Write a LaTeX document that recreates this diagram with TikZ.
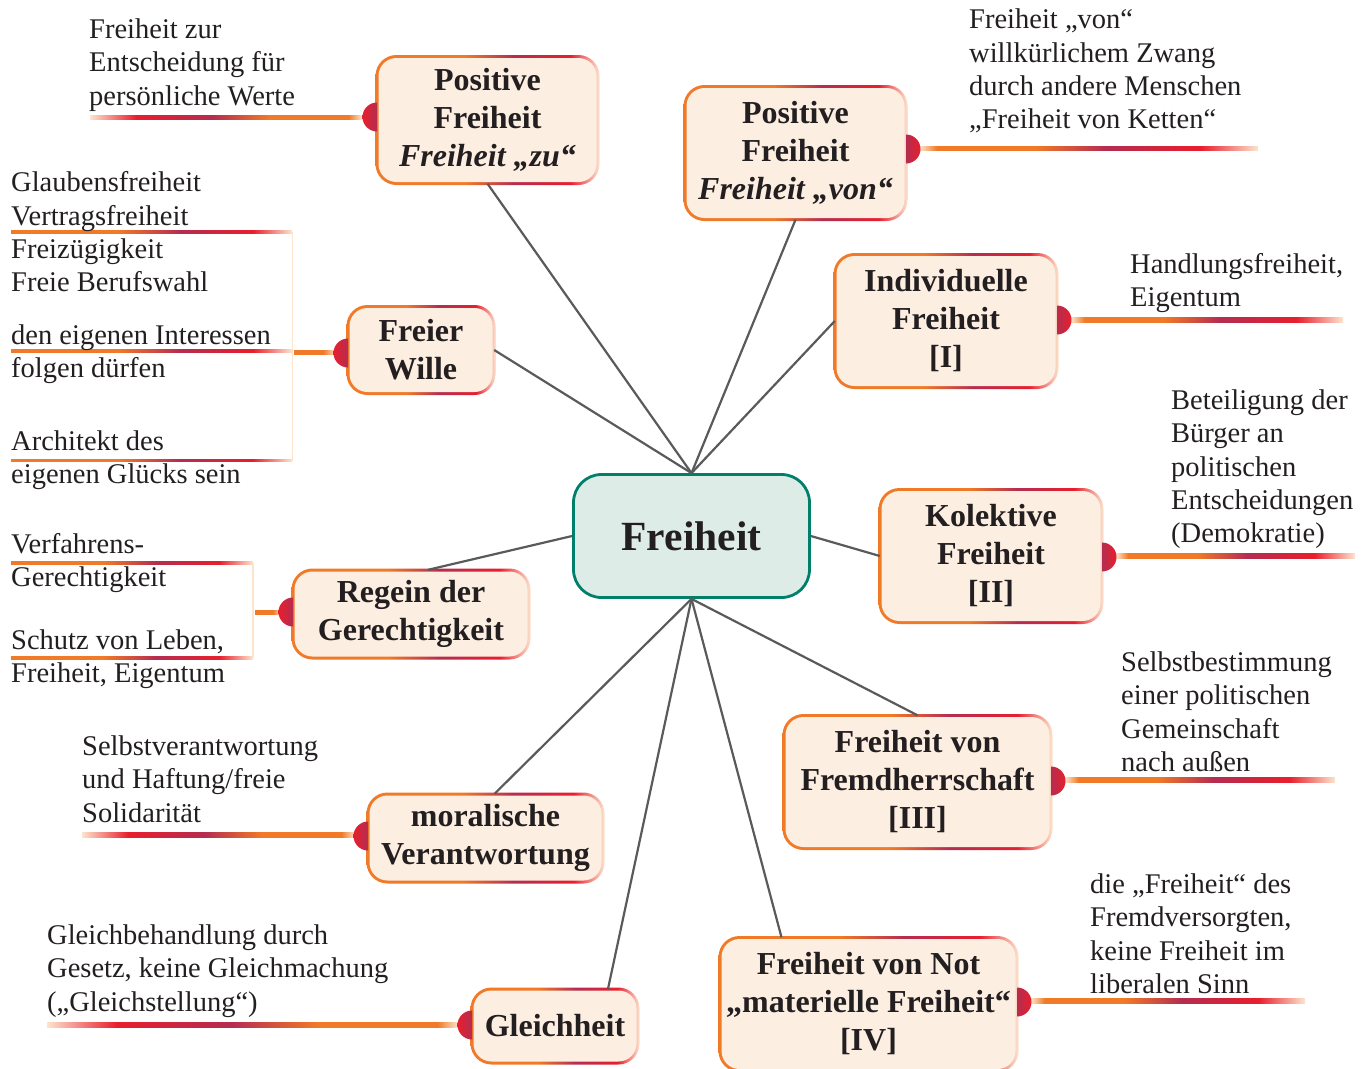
\documentclass[tikz,border=0pt]{standalone}
\usepackage{fontspec}
\setmainfont{Liberation Serif}
\definecolor{orangeC}{RGB}{240,122,40}
\definecolor{purpC}{RGB}{180,45,80}
\definecolor{redC}{RGB}{232,30,45}
\definecolor{paleC}{RGB}{252,228,205}
\definecolor{boxfillC}{RGB}{253,238,226}
\definecolor{cfillC}{RGB}{222,236,232}
\definecolor{cdrawC}{RGB}{0,128,107}
\definecolor{connC}{RGB}{90,90,90}
\definecolor{txtC}{RGB}{35,31,32}
\pgfdeclarehorizontalshading{gradR}{100bp}{color(0bp)=(paleC); color(25bp)=(paleC); color(27.5bp)=(orangeC); color(42bp)=(orangeC); color(52.5bp)=(purpC); color(66.5bp)=(redC); color(75bp)=(paleC); color(100bp)=(paleC)}
\pgfdeclarehorizontalshading{gradL}{100bp}{color(0bp)=(paleC); color(25bp)=(paleC); color(33.5bp)=(redC); color(47.5bp)=(purpC); color(58bp)=(orangeC); color(72.5bp)=(orangeC); color(75bp)=(paleC); color(100bp)=(paleC)}
\pgfdeclarehorizontalshading{gradB}{100bp}{color(0bp)=(orangeC); color(25bp)=(orangeC); color(44bp)=(orangeC); color(55bp)=(purpC); color(68bp)=(redC); color(75bp)=(paleC); color(100bp)=(paleC)}
\pgfdeclarehorizontalshading{gradBox}{100bp}{color(0bp)=(orangeC); color(25bp)=(orangeC); color(45bp)=(orangeC); color(56bp)=(purpC); color(68.5bp)=(redC); color(75bp)=(paleC); color(100bp)=(paleC)}
\pgfdeclarehorizontalshading{stubS}{100bp}{color(0bp)=(orangeC); color(25bp)=(orangeC); color(60bp)=(orangeC); color(75bp)=(paleC); color(100bp)=(paleC)}

% name, cx, cy, w, h, text
\newcommand\gbox[6]{%
  \shade[shading=gradBox, rounded corners=21pt] (#2-#4/2-1.5, #3-#5/2-1.5) rectangle (#2+#4/2+1.5, #3+#5/2+1.5);
  \fill[boxfillC, rounded corners=18pt] (#2-#4/2+1.5, #3-#5/2+1.5) rectangle (#2+#4/2-1.5, #3+#5/2-1.5);
  \node[nodetext, minimum width=#4pt, minimum height=#5pt] (#1) at (#2,#3) {#6};
}
% caps: x, y
\newcommand\capL[2]{\shade[left color=redC, right color=purpC] (#1,#2-14.5) arc[start angle=90, end angle=270, radius=14.5pt] -- cycle;}
\newcommand\capR[2]{\shade[left color=purpC, right color=redC] (#1,#2-14.5) arc[start angle=90, end angle=-90, radius=14.5pt] -- cycle;}
% gradient line: x1, x2, y, half thickness, shading
\newcommand\gline[5]{\shade[shading=#5] (#1,#3-#4) rectangle (#2,#3+#4);}

\begin{document}
\begin{tikzpicture}[x=1pt, y=-1pt,
  nodetext/.style={inner sep=0pt, align=center, text=txtC, font=\fontsize{32}{38}\selectfont\bfseries},
  bodytext/.style={inner sep=0pt, align=left, anchor=base west, text=txtC, font=\fontsize{28.5}{33.3}\selectfont},
  cbox/.style={draw=cdrawC, fill=cfillC, line width=2.8pt, rounded corners=28pt, minimum width=236pt, minimum height=123pt, text=txtC, font=\fontsize{41.5}{48}\selectfont\bfseries},
  conn/.style={draw=connC, line width=2.2pt},
  vline/.style={draw=paleC, line width=1.6pt}]
\useasboundingbox (0,0) rectangle (1370,1068);

% boxes
\gbox{n1}{487.5}{120}{221}{127}{Positive\\Freiheit\\\textit{Freiheit „zu“}}
\gbox{n2}{795.5}{153}{221}{133}{Positive\\Freiheit\\\textit{Freiheit „von“}}
\gbox{n3}{946}{321}{222}{133}{Individuelle\\Freiheit\\{[I]}}
\gbox{n4}{991}{556}{222}{133}{Kolektive\\Freiheit\\{[II]}}
\gbox{n5}{917.5}{782}{267}{133}{Freiheit von\\Fremdherrschaft\\{[III]}}
\gbox{n6}{868.5}{1004}{297}{133}{Freiheit von Not\\„materielle Freiheit“\\{[IV]}}
\gbox{n7}{555}{1026}{166}{74}{Gleichheit}
\gbox{n8}{485.5}{838}{235}{88}{moralische\\Verantwortung}
\gbox{n9}{411}{614}{236}{88}{Regein der\\Gerechtigkeit}
\gbox{n10}{421}{350}{146}{87}{Freier\\Wille}

\node[cbox] (c) at (691.5,536) {Freiheit};

% connectors
\draw[conn] (c.north) -- (n1.south);
\draw[conn] (c.north) -- (n2.south);
\draw[conn] (c.north) -- (n3.west);
\draw[conn] (c.north) -- (n10.east);
\draw[conn] (c.east) -- (n4.west);
\draw[conn] (c.west) -- ([xshift=17pt]n9.north);
\draw[conn] (c.south) -- (n5.north);
\draw[conn] (c.south) -- ([xshift=-87pt]n6.north);
\draw[conn] (c.south) -- ([xshift=53pt]n7.north);
\draw[conn] (c.south) -- ([xshift=9pt]n8.north);

% underlines
\gline{90}{362}{117.5}{2.4}{gradL}
\gline{920}{1258}{148.5}{2.4}{gradR}
\gline{1071}{1343}{320}{2.4}{gradR}
\gline{1116}{1355}{556}{2.4}{gradR}
\gline{1065}{1335}{780}{2.4}{gradR}
\gline{1031}{1305}{1001}{2.4}{gradR}
\gline{47}{458}{1025}{2.4}{gradL}
\gline{82}{355}{835}{2.4}{gradL}

% bracket for Regein der Gerechtigkeit
\gline{11}{253}{563}{1.4}{gradB}
\gline{11}{253}{658}{1.4}{gradB}
\draw[vline] (253,563) -- (253,658);
\gline{255}{281}{612}{2}{stubS}

% bracket for Freier Wille
\gline{11}{292}{232}{1.4}{gradB}
\gline{11}{292}{351}{1.4}{gradB}
\gline{11}{292}{460.5}{1.4}{gradB}
\draw[vline] (292.5,232) -- (292.5,460.5);
\gline{294}{336}{352.5}{2}{stubS}

% caps
\capL{377}{117}
\capR{906}{149}
\capR{1057}{320}
\capR{1102}{557}
\capR{1051}{781}
\capR{1017}{1002}
\capL{472}{1025}
\capL{368}{836}
\capL{293}{612}
\capL{348}{353}

% texts (anchor = baseline of last line)
\node[bodytext] (t1) at (89,105.1) {Freiheit zur\\Entscheidung für\\persönliche Werte};
\node[bodytext] (t2) at (969,128.6) {Freiheit „von“\\willkürlichem Zwang\\durch andere Menschen\\„Freiheit von Ketten“};
\node[bodytext] (t3) at (1130,306.8) {Handlungsfreiheit,\\Eigentum};
\node[bodytext] (t4) at (1171,542.7) {Beteiligung der\\Bürger an\\politischen\\Entscheidungen\\(Demokratie)};
\node[bodytext] (t5) at (1121,771.5) {Selbstbestimmung\\einer politischen\\Gemeinschaft\\nach außen};
\node[bodytext] (t6) at (1090,993.4) {die „Freiheit“ des\\Fremdversorgten,\\keine Freiheit im\\liberalen Sinn};
\node[bodytext] (t7) at (47,1011.1) {Gleichbehandlung durch\\Gesetz, keine Gleichmachung\\(„Gleichstellung“)};
\node[bodytext] (t8) at (82,822.1) {Selbstverantwortung\\und Haftung/freie\\Solidarität};
\node[bodytext] (t9a) at (11,586.5) {Verfahrens-\\Gerechtigkeit};
\node[bodytext] (t9b) at (11,682.5) {Schutz von Leben,\\Freiheit, Eigentum};
\node[bodytext] (t10a) at (11,291.6) {Glaubensfreiheit\\Vertragsfreiheit\\Freizügigkeit\\Freie Berufswahl};
\node[bodytext] (t10b) at (11,377.3) {den eigenen Interessen\\folgen dürfen};
\node[bodytext] (t10c) at (11,483.3) {Architekt des\\eigenen Glücks sein};
\end{tikzpicture}
\end{document}
